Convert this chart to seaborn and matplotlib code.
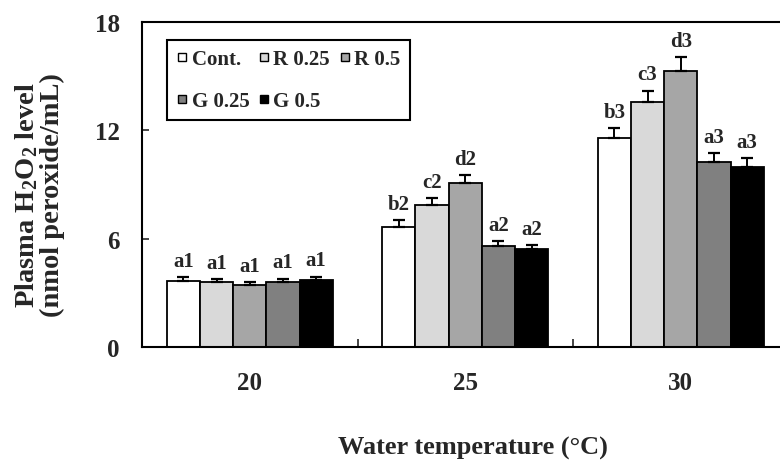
import matplotlib
matplotlib.use("Agg")
import matplotlib.pyplot as plt
from matplotlib.lines import Line2D
from matplotlib.ticker import FixedLocator
import numpy as np
import pandas as pd
import seaborn as sns

# Plasma H2O2 by water temperature and diet group
temperatures = ["20", "25", "30"]
treatments = ["Cont.", "R 0.25", "R 0.5", "G 0.25", "G 0.5"]
bar_colors = ["#ffffff", "#d9d9d9", "#a6a6a6", "#808080", "#000000"]

means = {
    "Cont.":  [3.67, 6.66, 11.56],
    "R 0.25": [3.58, 7.84, 13.55],
    "R 0.5":  [3.45, 9.06, 15.30],
    "G 0.25": [3.62, 5.57, 10.23],
    "G 0.5":  [3.71, 5.43, 9.98],
}
sems = {
    "Cont.":  [0.19, 0.35, 0.55],
    "R 0.25": [0.17, 0.40, 0.65],
    "R 0.5":  [0.15, 0.44, 0.74],
    "G 0.25": [0.17, 0.28, 0.51],
    "G 0.5":  [0.19, 0.22, 0.48],
}
letters = {
    "Cont.":  ["a1", "b2", "b3"],
    "R 0.25": ["a1", "c2", "c3"],
    "R 0.5":  ["a1", "d2", "d3"],
    "G 0.25": ["a1", "a2", "a3"],
    "G 0.5":  ["a1", "a2", "a3"],
}
y_ticks = [0, 6, 12, 18]

rows = []
for t in treatments:
    for i, temp in enumerate(temperatures):
        rows.append({"temp": temp, "treatment": t, "value": means[t][i]})
df = pd.DataFrame(rows)

sns.set_style("ticks")
plt.rcParams["font.family"] = ["Liberation Serif", "DejaVu Serif"]
plt.rcParams["font.weight"] = "bold"
plt.rcParams["mathtext.fontset"] = "custom"
plt.rcParams["mathtext.rm"] = "Liberation Serif:bold"
plt.rcParams["mathtext.it"] = "Liberation Serif:bold"
plt.rcParams["mathtext.bf"] = "Liberation Serif:bold"
plt.rcParams["mathtext.default"] = "rm"

fig = plt.figure(figsize=(7.8, 4.64), dpi=100)
ax = fig.add_axes([142 / 780, 1 - 348 / 464, 646.5 / 780, 325 / 464])

sns.barplot(
    data=df, x="temp", y="value", hue="treatment",
    order=temperatures, hue_order=treatments, palette=bar_colors,
    edgecolor="black", linewidth=1.3, width=0.77, errorbar=None,
    legend=False, ax=ax, zorder=2,
)

# upper error bars and significance letters, one bar container per treatment
for t, cont in zip(treatments, ax.containers):
    xs = np.array([b.get_x() + b.get_width() / 2 for b in cont])
    hs = np.array([b.get_height() for b in cont])
    errs = np.array(sems[t])
    ax.errorbar(xs, hs, yerr=[np.zeros_like(errs), errs], fmt="none",
                ecolor="black", elinewidth=1.4, capsize=4.3, capthick=1.6,
                zorder=3)
    for x, h, e, lab in zip(xs, hs, errs, letters[t]):
        ax.annotate(lab, (x, h + e), xytext=(0, 8), textcoords="offset points",
                    ha="center", va="baseline", fontsize=15, fontweight="bold")

ax.set_ylim(0, 18)
ax.set_xlim(-0.5, 2.5)
ax.yaxis.set_major_locator(FixedLocator(y_ticks))
ax.set_yticklabels([str(v) for v in y_ticks])

for side in ["left", "bottom", "top"]:
    ax.spines[side].set_linewidth(1.5)
    ax.spines[side].set_color("black")
ax.spines["right"].set_visible(False)

ax.tick_params(axis="y", direction="in", length=5, width=1.2, pad=16,
               labelsize=18)
ax.tick_params(axis="x", which="major", length=0, pad=17, labelsize=18)
ax.xaxis.set_minor_locator(FixedLocator([0.5, 1.5]))
ax.tick_params(axis="x", which="minor", direction="in", length=6, width=1.2)
for lab in ax.get_xticklabels() + ax.get_yticklabels():
    lab.set_fontweight("bold")

ax.set_xlabel("Water temperature (°C)", fontsize=19, fontweight="bold")
ax.xaxis.set_label_coords((473 - 142) / 646.5, -0.275)
ax.set_ylabel("Plasma H$_2$O$_2$ level\n(nmol peroxide/mL)", fontsize=20.5,
              fontweight="bold", linespacing=1.0)
ax.yaxis.label.set_va("center")
ax.yaxis.set_label_coords((39 - 142) / 646.5, (348 - 195) / 325)

# legend laid out row by row: ncol=3 fills columns, so interleave the order
legend_order = [0, 3, 1, 4, 2]
handles = [
    Line2D([], [], linestyle="none", marker="s", markersize=6.2,
           markerfacecolor=bar_colors[i], markeredgecolor="black",
           markeredgewidth=1.0, label=treatments[i])
    for i in legend_order
]
leg = ax.legend(handles=handles, ncol=3, loc="upper left",
                bbox_to_anchor=((166.7 - 142) / 646.5, (348 - 40.7) / 325),
                borderaxespad=0, frameon=True, fancybox=False,
                edgecolor="black", framealpha=1, handlelength=0.6,
                handletextpad=0.15, columnspacing=0.4, labelspacing=1.05,
                borderpad=0.45, prop={"size": 15, "weight": "bold"})
leg.get_frame().set_linewidth(1.5)

fig.savefig("out.png", dpi=100)
